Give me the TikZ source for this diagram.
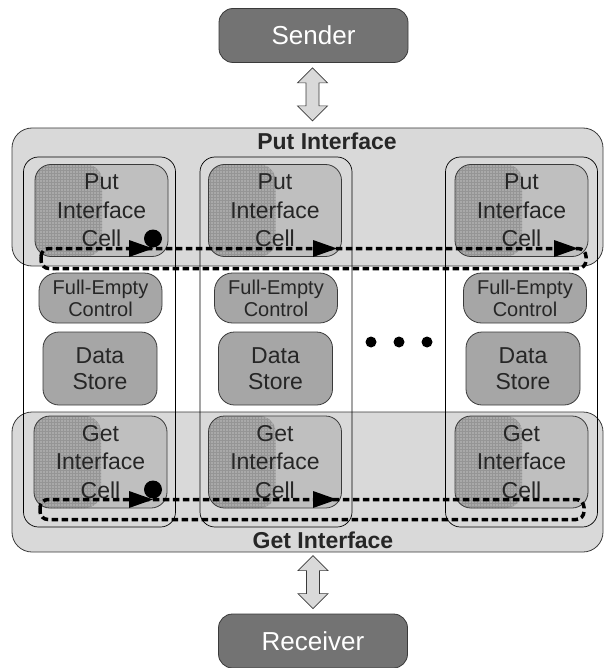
\documentclass[tikz,border=0pt]{standalone}
\usepackage{fontspec}
\setmainfont{Liberation Sans}
\usetikzlibrary{patterns,calc}

\definecolor{ifacefill}{HTML}{D9D9D9}
\definecolor{cellfill}{HTML}{BFBFBF}
\definecolor{hatchfill}{HTML}{A9A9A9}
\definecolor{hatchline}{HTML}{959595}
\definecolor{blockfill}{HTML}{A6A6A6}
\definecolor{endfill}{HTML}{737373}
\definecolor{edge}{HTML}{3A3A3A}
\definecolor{ink}{HTML}{262626}

\begin{document}
\begin{tikzpicture}[x=1pt,y=-1pt,
  endpoint/.style={draw=edge, fill=endfill, line width=0.8pt, rounded corners=14pt,
    minimum width=189pt, minimum height=54pt, inner sep=0pt,
    text=white, font=\fontsize{26}{30}\selectfont},
  iface/.style={draw=edge, fill=ifacefill, line width=0.8pt, rounded corners=20pt,
    minimum width=591pt, inner sep=0pt},
  column/.style={draw=black, line width=0.7pt, rounded corners=15pt,
    minimum width=152pt, minimum height=370pt, inner sep=0pt},
  iocell/.style={draw=edge, fill=cellfill, line width=0.8pt, rounded corners=16pt,
    minimum width=133pt, minimum height=92pt, inner sep=0pt, align=center,
    text=ink, font=\fontsize{23}{28.5}\selectfont,
    path picture={
      \fill[hatchfill] (path picture bounding box.south west)
        rectangle ([xshift=67pt]path picture bounding box.north west);
      \fill[pattern=grid, pattern color=hatchline] (path picture bounding box.south west)
        rectangle ([xshift=67pt]path picture bounding box.north west);
    }},
  fecell/.style={draw=edge, fill=blockfill, line width=0.8pt, rounded corners=18pt,
    minimum width=123pt, minimum height=50pt, inner sep=0pt, align=center,
    text=ink, font=\fontsize{20}{22}\selectfont},
  storecell/.style={draw=edge, fill=blockfill, line width=0.8pt, rounded corners=16pt,
    minimum width=114pt, minimum height=73pt, inner sep=0pt, align=center,
    text=ink, font=\fontsize{23}{26}\selectfont},
  heading/.style={text=ink, anchor=base, inner sep=0pt,
    font=\bfseries\fontsize{23}{26}\selectfont},
  loopline/.style={draw=black, line width=3.5pt, rounded corners=8pt,
    dash pattern=on 6.5pt off 3.5pt},
  twoway/.pic={
    \draw[draw=edge, fill=ifacefill, line width=0.7pt, line join=miter]
      (0,0) -- (15,15) -- (6.5,15) -- (6.5,38) -- (15,38) -- (0,53)
      -- (-15,38) -- (-6.5,38) -- (-6.5,15) -- (-15,15) -- cycle;
  },
  headtip/.pic={
    \fill[black] (-24,-8.5) -- (0,0) -- (-24,8.5) -- cycle;
  }
]
\useasboundingbox (0,0) rectangle (605,668);

% sender and receiver
\node[endpoint] (sender) at (313.5,35.5) {Sender};
\node[endpoint] (receiver) at (313,641) {Receiver};

% put and get interface bands
\node[iface, minimum height=138pt] (putif) at (307.5,197) {};
\node[iface, minimum height=140pt] (getif) at (307.5,482) {};
\node[heading] (putlabel) at (327,150) {Put Interface};
\node[heading] (getlabel) at (323,548) {Get Interface};

% two-way links
\pic at ($(sender.south)+(-1,5)$) {twoway};
\pic at ($(receiver.north)+(0,-58)$) {twoway};

% FIFO cell columns
\node[column] (col1) at (99.5,342) {};
\node[column] (col2) at (276,342) {};
\node[column] (col3) at (521.5,342) {};

% put interface cells
\node[iocell] (put1) at (101.5,210.5) {Put\\Interface\\Cell};
\node[iocell] (put2) at (275,210.5) {Put\\Interface\\Cell};
\node[iocell] (put3) at (521.5,210.5) {Put\\Interface\\Cell};

% full/empty control
\node[fecell] (fe1) at (100.5,298) {Full-Empty\\Control};
\node[fecell] (fe2) at (276,298) {Full-Empty\\Control};
\node[fecell] (fe3) at (525,298) {Full-Empty\\Control};

% data stores
\node[storecell] (ds1) at (100,368.5) {Data\\Store};
\node[storecell] (ds2) at (275.5,368.5) {Data\\Store};
\node[storecell] (ds3) at (523,368.5) {Data\\Store};

% get interface cells
\node[iocell] (get1) at (100.5,462) {Get\\Interface\\Cell};
\node[iocell] (get2) at (275,462) {Get\\Interface\\Cell};
\node[iocell] (get3) at (521.5,462) {Get\\Interface\\Cell};

% ellipsis between columns
\foreach \dx in {371,399,427}
  \fill[black] (\dx,342) circle[radius=5.5pt];

% token rings
\draw[loopline] (41,248.5) rectangle (586,268.5);
\draw[loopline] (40,499.5) rectangle (584,519.5);

% token positions
\pic at (153,248.5) {headtip};
\pic at (337,248.5) {headtip};
\pic at (578,248.5) {headtip};
\pic at (153,499.5) {headtip};
\pic at (337,499.5) {headtip};
\fill[black] (153,238.5) circle[radius=9pt];
\fill[black] (153,489.5) circle[radius=9pt];
\end{tikzpicture}
\end{document}
